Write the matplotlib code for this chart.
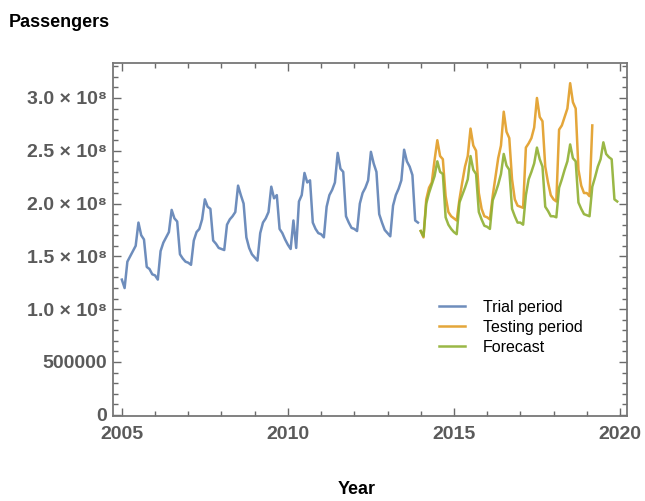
import numpy as np
import matplotlib
matplotlib.use("Agg")
import matplotlib.pyplot as plt
from matplotlib.ticker import MultipleLocator, FixedLocator

# monthly passengers, in units of 1e8
trial = [
    1.28, 1.20, 1.45, 1.50, 1.55, 1.60, 1.82, 1.70, 1.66, 1.40, 1.38, 1.33,  # 2005
    1.32, 1.28, 1.55, 1.63, 1.68, 1.73, 1.94, 1.86, 1.83, 1.52, 1.48, 1.45,  # 2006
    1.44, 1.42, 1.65, 1.73, 1.76, 1.85, 2.04, 1.97, 1.95, 1.65, 1.62, 1.58,  # 2007
    1.57, 1.56, 1.80, 1.85, 1.88, 1.92, 2.17, 2.08, 2.00, 1.68, 1.58, 1.52,  # 2008
    1.49, 1.46, 1.72, 1.82, 1.86, 1.92, 2.16, 2.05, 2.08, 1.76, 1.72, 1.66,  # 2009
    1.61, 1.57, 1.84, 1.58, 2.02, 2.08, 2.29, 2.20, 2.22, 1.82, 1.76, 1.72,  # 2010
    1.71, 1.68, 1.97, 2.08, 2.13, 2.20, 2.48, 2.33, 2.30, 1.88, 1.82, 1.77,  # 2011
    1.76, 1.74, 2.00, 2.10, 2.15, 2.22, 2.49, 2.38, 2.30, 1.90, 1.82, 1.75,  # 2012
    1.72, 1.69, 1.98, 2.08, 2.14, 2.22, 2.51, 2.40, 2.35, 2.27, 1.84, 1.82,  # 2013
]
testing = [
    1.74, 1.68, 2.04, 2.15, 2.20, 2.41, 2.60, 2.45, 2.42, 2.07, 1.92, 1.88,  # 2014
    1.86, 1.84, 2.04, 2.20, 2.35, 2.45, 2.71, 2.55, 2.50, 2.10, 1.95, 1.88,  # 2015
    1.87, 1.85, 2.07, 2.25, 2.43, 2.55, 2.87, 2.68, 2.62, 2.23, 2.04, 1.98,  # 2016
    1.97, 1.96, 2.53, 2.57, 2.62, 2.72, 3.00, 2.82, 2.78, 2.35, 2.20, 2.08,  # 2017
    2.04, 2.02, 2.70, 2.74, 2.82, 2.90, 3.14, 2.96, 2.90, 2.32, 2.17, 2.10,  # 2018
    2.10, 2.07, 2.74,                                                        # 2019
]
forecast = [
    1.74, 1.69, 2.00, 2.10, 2.18, 2.26, 2.40, 2.30, 2.28, 1.87, 1.80, 1.76,  # 2014
    1.73, 1.71, 2.01, 2.08, 2.15, 2.23, 2.45, 2.32, 2.28, 1.92, 1.85, 1.79,  # 2015
    1.78, 1.76, 2.03, 2.10, 2.18, 2.28, 2.47, 2.36, 2.32, 1.95, 1.88, 1.82,  # 2016
    1.82, 1.80, 2.08, 2.23, 2.30, 2.38, 2.53, 2.42, 2.35, 1.97, 1.93, 1.88,  # 2017
    1.88, 1.87, 2.15, 2.23, 2.32, 2.40, 2.56, 2.43, 2.40, 2.01, 1.95, 1.90,  # 2018
    1.89, 1.88, 2.16, 2.25, 2.35, 2.42, 2.58, 2.47, 2.44, 2.42, 2.04, 2.02,  # 2019
]
names = ["Trial period", "Testing period", "Forecast"]
colors = ["#5e81b5", "#e19c24", "#8fb032"]
start_years = [2005, 2014, 2014]

ytick_vals = [0, 0.5e8, 1.0e8, 1.5e8, 2.0e8, 2.5e8, 3.0e8]
ytick_labels = ["0", "500000", "1.0 × 10⁸", "1.5 × 10⁸", "2.0 × 10⁸", "2.5 × 10⁸", "3.0 × 10⁸"]
xtick_vals = [2005, 2010, 2015, 2020]

fig = plt.figure(figsize=(6.45, 5.01), dpi=100)
ax = fig.add_axes([0.175, 0.170, 0.797, 0.704])

for vals, name, c, y0 in zip([trial, testing, forecast], names, colors, start_years):
    v = np.array(vals) * 1e8
    t = y0 + np.arange(len(v)) / 12.0
    ax.plot(t, v, color=c, lw=1.8, alpha=0.9, label=name)

ax.set_xlim(2004.73, 2020.21)
ax.set_ylim(-0.01e8, 3.33e8)

ax.xaxis.set_major_locator(FixedLocator(xtick_vals))
ax.xaxis.set_minor_locator(MultipleLocator(1))
ax.yaxis.set_major_locator(FixedLocator(ytick_vals))
ax.yaxis.set_minor_locator(MultipleLocator(0.1e8))
ax.set_xticklabels([str(x) for x in xtick_vals])
ax.set_yticklabels(ytick_labels)

tick_col = "#6a6a6a"
ax.tick_params(which="both", direction="in", top=True, right=True, color=tick_col, width=1.0)
ax.tick_params(which="major", length=6)
ax.tick_params(which="minor", length=3.5)
ax.tick_params(axis="x", pad=7)
ax.tick_params(axis="y", pad=4)
for lab in ax.get_xticklabels() + ax.get_yticklabels():
    lab.set_family(["Liberation Sans", "DejaVu Sans"])
    lab.set_fontsize(14)
    lab.set_fontweight("bold")
    lab.set_color("#5a5a5a")
for s in ax.spines.values():
    s.set_color("#777777")
    s.set_linewidth(1.3)

ax.legend(loc="upper left", bbox_to_anchor=(0.659, 0.43), bbox_transform=fig.transFigure,
          frameon=False, handlelength=1.6, handletextpad=1.1, labelspacing=0.3,
          prop={"family": "Liberation Sans", "size": 11.5})

fig.text(0.014, 0.955, "Passengers", fontsize=13, fontweight="bold",
         family="Liberation Sans", ha="left", va="center")
fig.text(0.553, 0.022, "Year", fontsize=13, fontweight="bold",
         family="Liberation Sans", ha="center", va="center")

fig.savefig("out.png", dpi=100)
